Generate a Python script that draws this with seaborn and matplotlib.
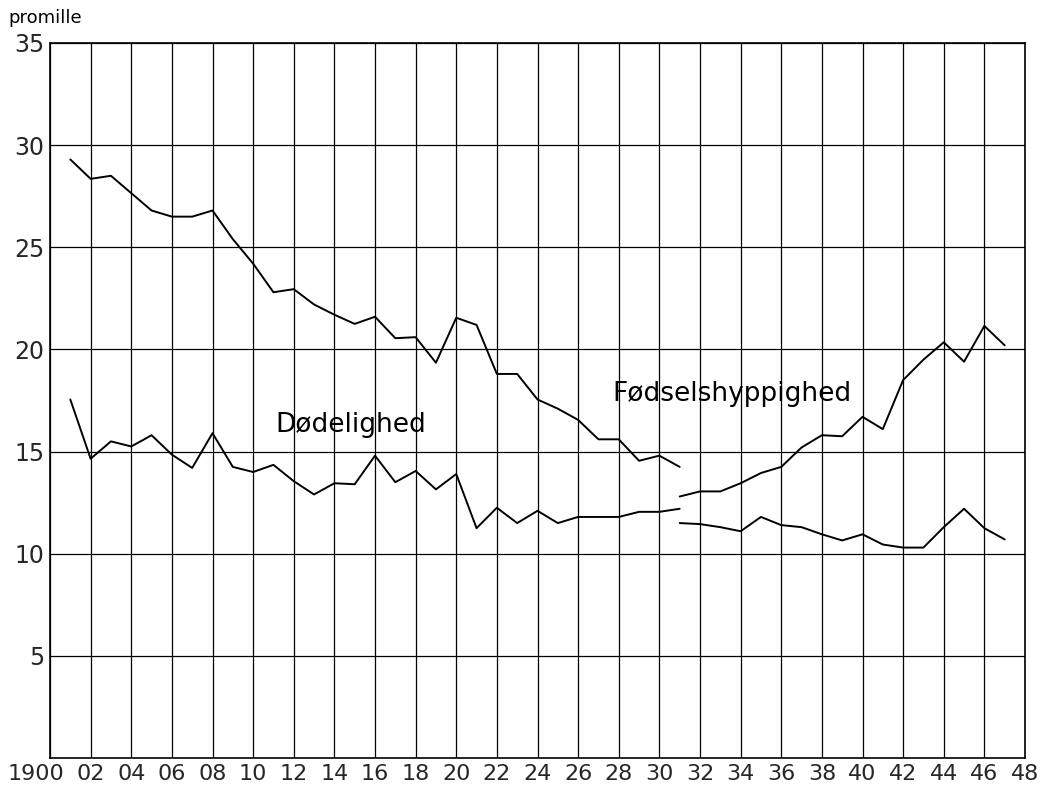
import matplotlib
matplotlib.use("Agg")
import matplotlib.pyplot as plt
import matplotlib.transforms as mtransforms
import seaborn as sns
import pandas as pd

# Birth rate (Fødselshyppighed), per mille
birth_years_a = list(range(1901, 1932))
birth_a = [29.3, 28.35, 28.5, 27.65, 26.8, 26.5, 26.5, 26.8, 25.4, 24.2,
           22.8, 22.95, 22.2, 21.7, 21.25, 21.6, 20.55, 20.6, 19.35, 21.55,
           21.2, 18.8, 18.8, 17.55, 17.1, 16.55, 15.6, 15.6, 14.55, 14.8, 14.25]
birth_years_b = list(range(1931, 1948))
birth_b = [12.8, 13.05, 13.05, 13.45, 13.95, 14.25, 15.2, 15.8, 15.75, 16.7,
           16.1, 18.5, 19.5, 20.35, 19.4, 21.15, 20.2]

# Death rate (Dødelighed), per mille
death_years_a = list(range(1901, 1932))
death_a = [17.55, 14.65, 15.5, 15.25, 15.8, 14.85, 14.2, 15.9, 14.25, 14.0,
           14.35, 13.55, 12.9, 13.45, 13.4, 14.8, 13.5, 14.05, 13.15, 13.9,
           11.25, 12.25, 11.5, 12.1, 11.5, 11.8, 11.8, 11.8, 12.05, 12.05, 12.2]
death_years_b = list(range(1931, 1948))
death_b = [11.5, 11.45, 11.3, 11.1, 11.8, 11.4, 11.3, 10.95, 10.65, 10.95,
           10.45, 10.3, 10.3, 11.3, 12.2, 11.25, 10.7]

x_ticks = list(range(1900, 1949, 2))
x_labels = ["1900"] + [f"{y % 100:02d}" for y in x_ticks[1:]]
y_ticks = [5, 10, 15, 20, 25, 30, 35]

sns.set_theme(style="white")
plt.rcParams["font.family"] = ["DejaVu Sans"]

fig = plt.figure(figsize=(10.42, 7.87), dpi=100)
ax = fig.add_axes([50 / 1042, 29 / 787, 975 / 1042, 715 / 787])

segments = [
    (birth_years_a, birth_a),
    (birth_years_b, birth_b),
    (death_years_a, death_a),
    (death_years_b, death_b),
]
for yrs, vals in segments:
    df = pd.DataFrame({"year": yrs, "value": vals})
    sns.lineplot(data=df, x="year", y="value", ax=ax, color="black",
                 linewidth=1.4, estimator=None)

ax.set_xlim(1900, 1948)
ax.set_ylim(0, 35)
ax.set_xticks(x_ticks)
ax.set_xticklabels(x_labels, fontsize=16)
ax.set_yticks(y_ticks)
ax.set_yticklabels([str(v) for v in y_ticks], fontsize=17)
ax.tick_params(axis="both", length=0, pad=4)
ax.set_xlabel("")
ax.set_ylabel("")
ax.grid(True, color="black", linewidth=0.9)
ax.set_axisbelow(True)
for s in ax.spines.values():
    s.set_color("black")
    s.set_linewidth(1.2)

# shift the "1900" label left, as in the reference
first = ax.get_xticklabels()[0]
first.set_transform(first.get_transform() +
                    mtransforms.ScaledTranslation(-14 / 100, 0, fig.dpi_scale_trans))

ax.text(1911.1, 16.3, "Dødelighed", fontsize=19, va="center", ha="left",
        color="black")
ax.text(1927.7, 17.8, "Fødselshyppighed", fontsize=19, va="center", ha="left",
        color="black")
fig.text(8 / 1042, 1 - 18 / 787, "promille", fontsize=13, va="center",
         ha="left", color="black")

fig.savefig("out.png", dpi=100, facecolor="white")
